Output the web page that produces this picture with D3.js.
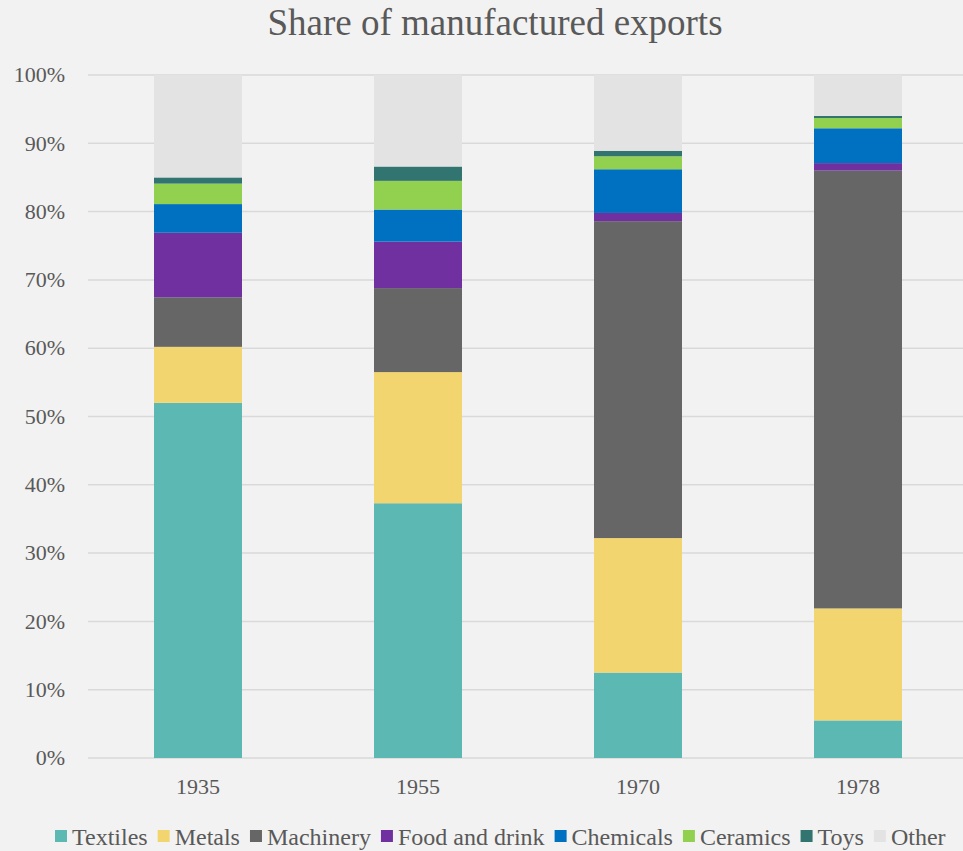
<!DOCTYPE html>
<html>
<head>
<meta charset="utf-8">
<script src="https://cdn.jsdelivr.net/npm/d3@7/dist/d3.min.js"></script>
<style>
  html, body { margin: 0; padding: 0; background: #f2f2f2; }
  svg { display: block; }
</style>
</head>
<body>
<script>
const years = ["1935", "1955", "1970", "1978"];
const seriesNames = ["Textiles", "Metals", "Machinery", "Food and drink", "Chemicals", "Ceramics", "Toys", "Other"];
const seriesColors = ["#5bb8b2", "#f3d56f", "#666666", "#7030a0", "#0070c0", "#92d050", "#317470", "#e3e3e3"];
const textiles = [52.0, 37.3, 12.5, 5.5];
const metals = [8.2, 19.2, 19.7, 16.4];
const machinery = [7.25, 12.3, 46.4, 64.1];
const foodAndDrink = [9.45, 6.8, 1.2, 1.1];
const chemicals = [4.2, 4.7, 6.4, 5.1];
const ceramics = [3.0, 4.2, 1.9, 1.5];
const toys = [0.9, 2.1, 0.8, 0.3];
const other = [15.0, 13.4, 11.1, 6.0];
const yTicks = [0, 10, 20, 30, 40, 50, 60, 70, 80, 90, 100];

const FONT = "'Liberation Serif', 'Times New Roman', 'DejaVu Serif', serif";
const TXT = "#595959";

const seriesValues = [textiles, metals, machinery, foodAndDrink, chemicals, ceramics, toys, other];
const rows = years.map((y, i) => {
  const r = { year: y };
  seriesNames.forEach((s, j) => r[s] = seriesValues[j][i]);
  return r;
});

const W = 963, H = 851;
const svg = d3.select("body").append("svg").attr("width", W).attr("height", H)
  .attr("font-family", FONT);
svg.append("rect").attr("width", W).attr("height", H).attr("fill", "#f2f2f2");

const x = d3.scaleBand().domain(years).range([88, 968]).paddingInner(0.6).paddingOuter(0.3);
const y = d3.scaleLinear().domain([0, 100]).range([758, 75]);

// gridlines
svg.append("g").selectAll("line").data(yTicks).join("line")
  .attr("x1", 88).attr("x2", W)
  .attr("y1", d => y(d)).attr("y2", d => y(d))
  .attr("stroke", "#d9d9d9").attr("stroke-width", 1.5);

// y labels
svg.append("g").selectAll("text").data(yTicks).join("text")
  .attr("x", 65).attr("y", d => y(d)).attr("dy", "0.33em")
  .attr("text-anchor", "end").attr("font-size", 22)
  .attr("font-family", FONT).attr("fill", TXT)
  .text(d => d + "%");

// stacked bars
const stack = d3.stack().keys(seriesNames);
const layers = stack(rows);
svg.append("g").selectAll("g").data(layers).join("g")
  .attr("fill", (d, i) => seriesColors[i])
  .selectAll("rect").data(d => d).join("rect")
  .attr("x", d => x(d.data.year))
  .attr("width", x.bandwidth())
  .attr("y", d => y(d[1]))
  .attr("height", d => y(d[0]) - y(d[1]));

// x labels
svg.append("g").selectAll("text").data(years).join("text")
  .attr("x", d => x(d) + x.bandwidth() / 2).attr("y", 794)
  .attr("text-anchor", "middle").attr("font-size", 22)
  .attr("font-family", FONT).attr("fill", TXT)
  .text(d => d);

// title
svg.append("text").attr("x", 495).attr("y", 35)
  .attr("text-anchor", "middle").attr("font-size", 37)
  .attr("font-family", FONT).attr("fill", TXT)
  .text("Share of manufactured exports");

// legend
const legend = svg.append("g");
let lx = 55;
seriesNames.forEach((s, i) => {
  legend.append("rect").attr("x", lx).attr("y", 830).attr("width", 12).attr("height", 12).attr("fill", seriesColors[i]);
  const t = legend.append("text").attr("x", lx + 17).attr("y", 845).attr("font-size", 24)
    .attr("font-family", FONT).attr("fill", TXT).text(s);
  lx += 17 + t.node().getComputedTextLength() + 10;
});
</script>
</body>
</html>
